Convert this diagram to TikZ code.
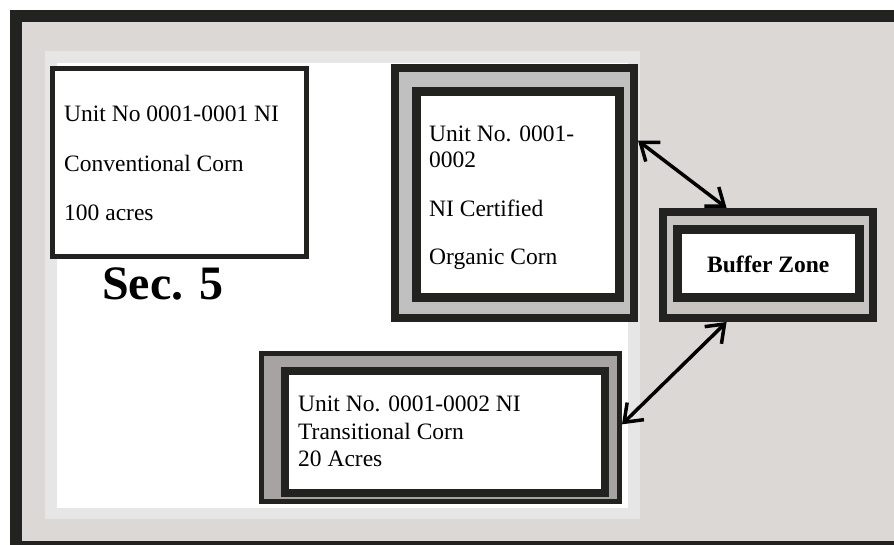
\documentclass[tikz,border=0pt]{standalone}
\usepackage{fontspec}
\setmainfont{Liberation Serif}
\usetikzlibrary{arrows.meta}

\definecolor{edge}{HTML}{222221}
\definecolor{field}{HTML}{DCD8D6}
\definecolor{margin}{HTML}{E6E6E6}
\definecolor{bandorg}{HTML}{C0C0C0}
\definecolor{bandbuf}{HTML}{C8C4C2}
\definecolor{bandtrans}{HTML}{A8A3A3}

\begin{document}
\begin{tikzpicture}[x=1pt,y=-1pt,
		unit/.style={draw=edge,rectangle,inner sep=0pt},
		txt/.style={inner sep=0pt,align=left,font=\fontsize{23.5}{27.5}\selectfont},
		link/.style={line width=3.5pt,line cap=round,
			{Straight Barb[length=16pt,width=24pt]}-{Straight Barb[length=16pt,width=24pt]}}]
		\useasboundingbox (0,0) rectangle (894,545);
		\draw[draw=edge,line width=12pt,fill=field] (16,16) rectangle (905,547);
		\fill[margin] (45,51) rectangle (640,519);
		\fill[white] (57,63) rectangle (628,508);

		\node[anchor=base west,inner sep=0pt,font=\bfseries\fontsize{48}{48}\selectfont] (sec) at (102,300) {Sec. 5};

		\node[unit,line width=5pt,fill=white,minimum width=254pt,minimum height=188pt] (conv) at (179.5,162.5) {};
		\node[txt,anchor=north west,font=\fontsize{23.5}{49.5}\selectfont] (convtxt) at (64,105.7) {Unit No 0001-0001 NI\\Conventional Corn\\100 acres};

		\node[unit,line width=8pt,fill=bandorg,minimum width=239pt,minimum height=250pt] (org) at (514.5,193) {};
		\node[unit,line width=9pt,fill=white,minimum width=202.5pt,minimum height=206.5pt] (orgin) at (517.75,194.75) {};
		\node[txt,anchor=north west,font=\fontsize{23.5}{26}\selectfont] (orgtxt) at (429,126) {Unit No. 0001-\\0002\\[23pt]NI Certified\\[22pt]Organic Corn};

		\node[unit,line width=8pt,fill=bandbuf,minimum width=210pt,minimum height=106pt] (buf) at (768,265) {};
		\node[unit,line width=9pt,fill=white,minimum width=181.5pt,minimum height=68pt,font=\bfseries\fontsize{23.5}{26}\selectfont] (bufin) at (768.25,264) {Buffer Zone};

		\node[unit,line width=5pt,fill=bandtrans,minimum width=358pt,minimum height=148pt] (trans) at (440.5,427.5) {};
		\node[unit,line width=8pt,fill=white,minimum width=320pt,minimum height=122pt] (transin) at (445,431.5) {};
		\node[txt,anchor=north west] (transtxt) at (298,395.8) {Unit No. 0001-0002 NI\\Transitional Corn\\20 Acres};

		\draw[link] (org.23) -- (buf.126);
		\draw[link] (buf.234) -- (trans.1);
	\end{tikzpicture}
\end{document}
